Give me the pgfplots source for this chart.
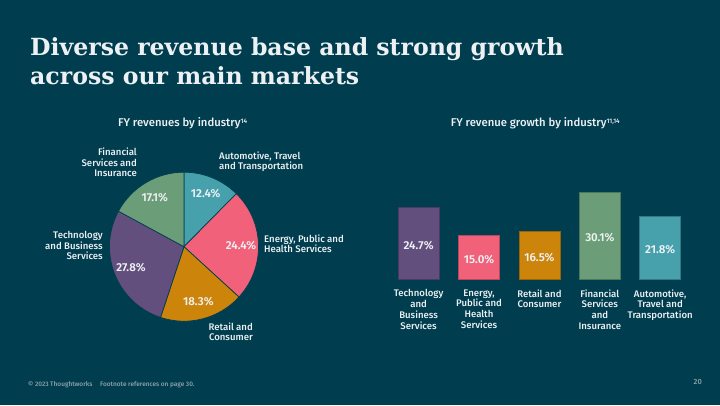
\documentclass[border=0pt]{standalone}
\usepackage{pgfplots}
\pgfplotsset{compat=1.18}
\usepackage{fontspec}
\setmainfont{Fira Sans}[UprightFont=* Medium, BoldFont=* SemiBold]
\newfontfamily\titlefont{DejaVu Serif}
\definecolor{bg}{HTML}{003D4F}
\definecolor{txt}{HTML}{EDF1F3}
\definecolor{sapphire}{HTML}{634F7D}
\definecolor{flamingo}{HTML}{F2617A}
\definecolor{turmeric}{HTML}{CC850A}
\definecolor{jade}{HTML}{6B9E78}
\definecolor{mist}{HTML}{47A1AD}
\definecolor{foot}{HTML}{8FA3AB}
% pie shares, clockwise from 12 o'clock
\def\pA{12.4}\def\pB{24.4}\def\pC{18.3}\def\pD{27.8}\def\pE{17.1}
\pgfmathsetmacro\sA{90}
\pgfmathsetmacro\sB{\sA-3.6*\pA}
\pgfmathsetmacro\sC{\sB-3.6*\pB}
\pgfmathsetmacro\sD{\sC-3.6*\pC}
\pgfmathsetmacro\sE{\sD-3.6*\pD}
\pgfmathsetmacro\sF{\sE-3.6*\pE}
\pgfmathsetmacro\mA{(\sA+\sB)/2}
\pgfmathsetmacro\mB{(\sB+\sC)/2}
\pgfmathsetmacro\mC{(\sC+\sD)/2}
\pgfmathsetmacro\mD{(\sD+\sE)/2}
\pgfmathsetmacro\mE{(\sE+\sF)/2}
\newcommand\slice[5]{%
  \fill[#3, draw=bg, line width=0.7pt] (axis cs:0,0) -- ([shift={(#1:74.5pt)}]axis cs:0,0)
     arc[start angle=#1, end angle=#2, radius=74.5pt] -- cycle;
  \node[font=\bfseries\fontsize{11.5}{13}\selectfont, text=txt] at ([shift={(#4:57pt)}]axis cs:0,0) {#5\%};
}
\begin{document}
\begin{tikzpicture}
\useasboundingbox (0,0) rectangle (720pt,405pt);
\fill[bg] (0,0) rectangle (720pt,405pt);
% title
\node[anchor=base west, inner sep=0, text=txt, font=\titlefont\bfseries\fontsize{23.6}{28}\selectfont] at (30pt,349pt) {Diverse revenue base and strong growth};
\node[anchor=base west, inner sep=0, text=txt, font=\titlefont\bfseries\fontsize{23.6}{28}\selectfont] at (30pt,320pt) {across our main markets};
% chart titles
\node[anchor=base west, inner sep=0, text=txt, font=\fontsize{11.3}{13}\selectfont] at (118pt,278pt) {FY revenues by industry\textsuperscript{\fontsize{6.5}{7}\selectfont 14}};
\node[anchor=base west, inner sep=0, text=txt, font=\fontsize{11.3}{13}\selectfont] at (450.7pt,278pt) {FY revenue growth by industry\textsuperscript{\fontsize{6.5}{7}\selectfont 11,14}};
% pie
\begin{axis}[at={(184pt,158.3pt)}, anchor=origin, x=1pt, y=1pt, disabledatascaling,
  xmin=-80, xmax=80, ymin=-80, ymax=80, hide axis]
\addplot[draw=none] coordinates {(0,0)};
\slice{\sA}{\sB}{mist}{\mA}{\pA}
\slice{\sB}{\sC}{flamingo}{\mB}{\pB}
\slice{\sC}{\sD}{turmeric}{\mC}{\pC}
\slice{\sD}{\sE}{sapphire}{\mD}{\pD}
\slice{\sE}{\sF}{jade}{\mE}{\pE}
\end{axis}
\begin{scope}[every node/.style={inner sep=0, text=txt, font=\fontsize{9.6}{10.3}\selectfont}]
\node[anchor=base east, align=right] at (137pt,228.5pt) {Financial\\Services and\\Insurance};
\node[anchor=base west, align=left] at (219pt,235.5pt) {Automotive, Travel\\and Transportation};
\node[anchor=base west, align=left] at (264pt,152.5pt) {Energy, Public and\\Health Services};
\node[anchor=base east, align=right] at (103pt,145.5pt) {Technology\\and Business\\Services};
\node[anchor=base east, align=right] at (253pt,64.5pt) {Retail and\\Consumer};
\end{scope}
% bars
\begin{axis}[at={(418.6pt,126pt)}, anchor=origin, x=60.4pt, y=2.88pt,
  xmin=-0.6, xmax=4.6, ymin=0, ymax=32,
  axis line style={draw=none}, tick style={draw=none},
  ytick=\empty, xtick={0,1,2,3,4},
  xticklabels={{Technology\\and\\Business\\Services},{Energy,\\Public and\\Health\\Services},{Retail and\\Consumer},{Financial\\Services\\and\\Insurance},{Automotive,\\Travel and\\Transportation}},
  xticklabel style={align=center, anchor=north, inner sep=0, yshift=-6pt, text=txt, font=\fontsize{9.6}{10.8}\selectfont},
  ybar, bar width=41pt, bar shift=0pt,
  /pgf/number format/assume math mode=true,
  visualization depends on=rawy\as\rawy,
  nodes near coords={\pgfmathprintnumber[fixed, fixed zerofill, precision=1, assume math mode=true]{\pgfplotspointmeta}\%},
  every node near coord/.append style={anchor=center, text=txt, font=\bfseries\fontsize{11.5}{13}\selectfont, shift={(axis direction cs:0,-\rawy/2)}, yshift=-2pt},
  ]
\addplot[fill=sapphire, draw=sapphire!75!black, line width=0.8pt] coordinates {(0,24.7)};
\addplot[fill=flamingo, draw=flamingo!75!black, line width=0.8pt] coordinates {(1,15.0)};
\addplot[fill=turmeric, draw=turmeric!75!black, line width=0.8pt] coordinates {(2,16.5)};
\addplot[fill=jade, draw=jade!75!black, line width=0.8pt] coordinates {(3,30.1)};
\addplot[fill=mist, draw=mist!75!black, line width=0.8pt] coordinates {(4,21.8)};
\end{axis}
% footer
\node[anchor=base west, inner sep=0, text=foot, font=\fontsize{6.5}{7}\selectfont] at (28pt,19pt) {\textcopyright{} 2023 Thoughtworks\hspace{1.2em}Footnote references on page 30.};
\node[anchor=base east, inner sep=0, text=foot, font=\fontsize{7.5}{8}\selectfont] at (702pt,21pt) {20};
\end{tikzpicture}
\end{document}
